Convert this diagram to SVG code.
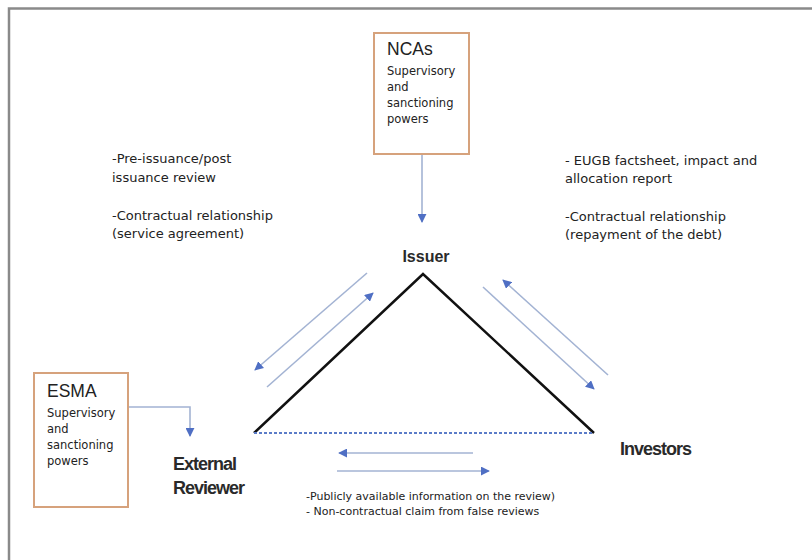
<svg xmlns="http://www.w3.org/2000/svg" width="812" height="560" viewBox="0 0 812 560">
<defs>
<style>
.t{font-family:"DejaVu Sans","Liberation Sans",sans-serif;fill:#222;}
.s{font-size:13px;}
.b{font-size:11.5px;}
.f{font-size:11px;}
.h{font-family:"Liberation Sans",Arial,sans-serif;font-size:17.5px;fill:#222;}
.n{font-family:"Liberation Sans",Arial,sans-serif;font-size:18px;font-weight:bold;fill:#2a2a2a;letter-spacing:-1px;}
.box{fill:#fff;stroke:#d6a27c;stroke-width:2;}
.ar{fill:none;stroke:#a3b3d3;stroke-width:1.6;marker-end:url(#ah);}
</style>
<marker id="ah" viewBox="0 0 10 10" refX="9" refY="5" markerWidth="9" markerHeight="9" markerUnits="userSpaceOnUse" orient="auto">
<path d="M0,0 L10,5 L0,10 z" fill="#4f6fc4"/>
</marker>
</defs>
<rect width="812" height="560" fill="#fff"/>
<path d="M9,560 V8.5 H812" fill="none" stroke="#8a8a8a" stroke-width="2.5"/>

<g id="connectors">
<path class="ar" d="M422,155 V222"/>
<path class="ar" d="M129,407 H190 V436"/>
<path class="ar" d="M367,273 L255,370"/>
<path class="ar" d="M267,387 L373,293"/>
<path class="ar" d="M608,375 L503,280"/>
<path class="ar" d="M483,287 L594,389"/>
<path class="ar" d="M473,453 H339"/>
<path class="ar" d="M337,471 H489"/>
</g>

<g id="triangle">
<path d="M254,433 L423,274 L594,433" fill="none" stroke="#111" stroke-width="2.5" stroke-linejoin="miter"/>
<line x1="254" y1="433" x2="594" y2="433" stroke="#5b7cc8" stroke-width="2" stroke-dasharray="3,2"/>
</g>

<g id="ncas">
<rect class="box" x="374" y="33" width="95" height="121"/>
<text class="h" x="387" y="55">NCAs</text>
<text class="t b" x="387" y="75">Supervisory</text>
<text class="t b" x="387" y="91">and</text>
<text class="t b" x="387" y="107">sanctioning</text>
<text class="t b" x="387" y="123">powers</text>
</g>

<g id="esma">
<rect class="box" x="34" y="373" width="94" height="134"/>
<text class="h" x="47" y="397">ESMA</text>
<text class="t b" x="47" y="417">Supervisory</text>
<text class="t b" x="47" y="433">and</text>
<text class="t b" x="47" y="449">sanctioning</text>
<text class="t b" x="47" y="465">powers</text>
</g>

<g id="issuer">
<text class="n" x="426" y="262" text-anchor="middle" style="font-size:16px;letter-spacing:0">Issuer</text>
</g>

<g id="external-reviewer">
<text class="n" x="173" y="470">External</text>
<text class="n" x="173" y="494">Reviewer</text>
</g>

<g id="investors">
<text class="n" x="620" y="455">Investors</text>
</g>

<g id="labels">
<text class="t s" x="112" y="163">-Pre-issuance/post</text>
<text class="t s" x="112" y="182">issuance review</text>
<text class="t s" x="112" y="220">-Contractual relationship</text>
<text class="t s" x="112" y="238">(service agreement)</text>
<text class="t s" x="565" y="165">- EUGB factsheet, impact and</text>
<text class="t s" x="565" y="183">allocation report</text>
<text class="t s" x="565" y="221">-Contractual relationship</text>
<text class="t s" x="565" y="239">(repayment of the debt)</text>
<text class="t f" x="306" y="500">-Publicly available information on the review)</text>
<text class="t f" x="306" y="515">- Non-contractual claim from false reviews</text>
</g>
</svg>
